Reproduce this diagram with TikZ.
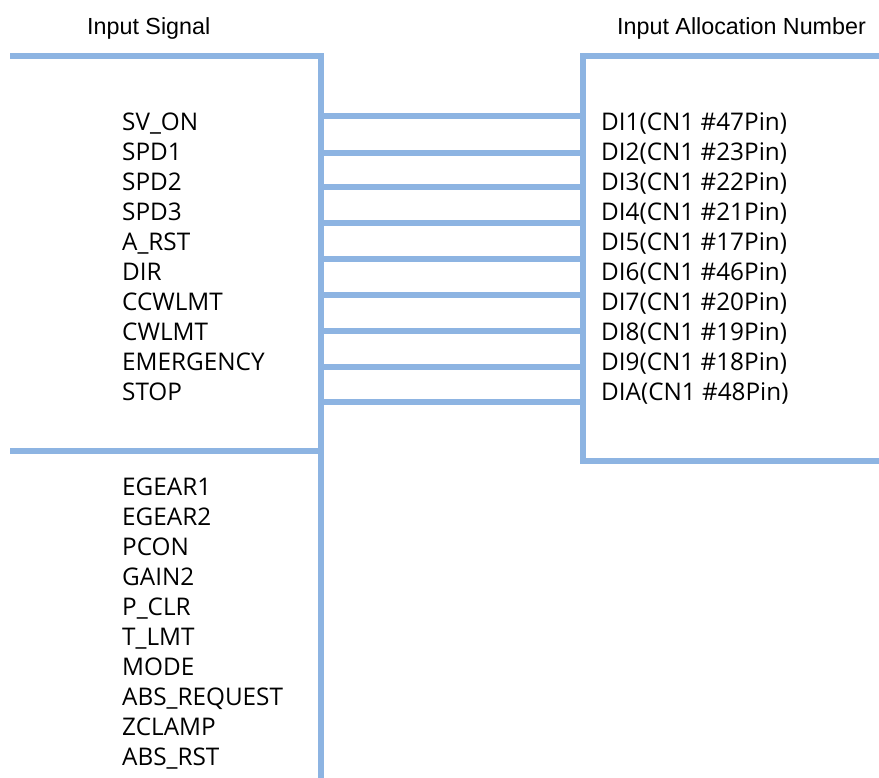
\documentclass[tikz,border=0pt]{standalone}
\usepackage{fontspec}
\setmainfont{Open Sans}
\newfontfamily\headfont{Liberation Sans}
\definecolor{busblue}{HTML}{8DB4E2}
\tikzset{
  bus/.style={draw=busblue, line width=6pt, line join=miter},
  wire/.style={draw=busblue, line width=6pt},
  lbl/.style={anchor=base west, inner sep=0pt, font=\fontsize{24.3}{30}\selectfont},
  head/.style={anchor=base west, inner sep=0pt, font=\headfont\fontsize{23.3}{28}\selectfont}
}
\begin{document}
\begin{tikzpicture}[x=1pt,y=-1pt]
\useasboundingbox (0,0) rectangle (879,778);
% headers
\node[head] (hin) at (87,34.5) {Input Signal};
\node[head] (hout) at (617,34.5) {Input Allocation Number};
% left bus
\coordinate (ltl) at (10,56);
\coordinate (ltr) at (321,56);
\coordinate (lbot) at (321,778);
\coordinate (lml) at (10,451);
\coordinate (lmr) at (321,451);
\draw[bus] (ltl) -- (ltr) -- (lbot);
\draw[bus] (lml) -- (lmr);
% right box
\coordinate (rtr) at (879,56);
\coordinate (rtl) at (583,56);
\coordinate (rbl) at (583,461);
\coordinate (rbr) at (879,461);
\draw[bus] (rtr) -- (rtl) -- (rbl) -- (rbr);
% connectors
\foreach \i/\y in {1/116,2/153,3/187,4/223,5/259,6/295,7/331,8/367,9/402}{
  \coordinate (cl\i) at (321,\y);
  \coordinate (cr\i) at (583,\y);
  \draw[wire] (cl\i) -- (cr\i);
}
% left labels (upper)
\foreach \i/\t in {0/SV\_ON,1/SPD1,2/SPD2,3/SPD3,4/A\_RST,5/DIR,6/CCWLMT,7/CWLMT,8/EMERGENCY,9/STOP}{
  \node[lbl] (sa\i) at (122,130.5+30*\i) {\t};
}
% left labels (lower)
\foreach \i/\t in {0/EGEAR1,1/EGEAR2,2/PCON,3/GAIN2,4/P\_CLR,5/T\_LMT,6/MODE,7/ABS\_REQUEST,8/ZCLAMP,9/ABS\_RST}{
  \node[lbl] (sb\i) at (122,495+30*\i) {\t};
}
% right labels
\foreach \i/\t in {0/DI1(CN1 \#47Pin),1/DI2(CN1 \#23Pin),2/DI3(CN1 \#22Pin),3/DI4(CN1 \#21Pin),4/DI5(CN1 \#17Pin),5/DI6(CN1 \#46Pin),6/DI7(CN1 \#20Pin),7/DI8(CN1 \#19Pin),8/DI9(CN1 \#18Pin),9/DIA(CN1 \#48Pin)}{
  \node[lbl] (ra\i) at (601,130.5+30*\i) {\t};
}
\end{tikzpicture}
\end{document}
